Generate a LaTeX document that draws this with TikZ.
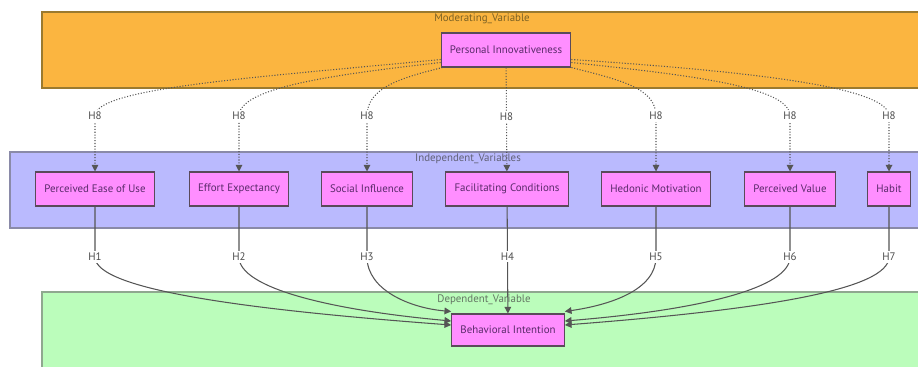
\documentclass[tikz,border=0pt]{standalone}
\usepackage{fontspec}
\setmainfont{PT Sans}
\usetikzlibrary{arrows.meta, positioning, calc}

\definecolor{modfill}{HTML}{FBB540}
\definecolor{modborder}{HTML}{9B7A2E}
\definecolor{indfill}{HTML}{BABAFE}
\definecolor{indborder}{HTML}{8A8AA8}
\definecolor{depfill}{HTML}{BBFDBB}
\definecolor{depborder}{HTML}{8FA88F}
\definecolor{nodefill}{HTML}{FF8EFF}
\definecolor{nodeborder}{HTML}{5A4A5A}
\definecolor{nodetext}{HTML}{5A2A6A}
\definecolor{edgecol}{HTML}{555555}

\begin{document}
\begin{tikzpicture}[
		x=0.02cm, y=-0.02cm,
		>={Triangle[length=3.8pt,width=3.8pt]},
		font=\fontsize{6.2}{7}\selectfont,
		% Estilos
		var/.style={draw=nodeborder, fill=nodefill, text=nodetext, rectangle, line width=0.6pt, minimum height=0.68cm, inner xsep=5pt},
		cluster/.style={line width=0.6pt},
		clustertitle/.style={inner sep=0pt},
		hlabel/.style={text=gray!60!black, fill=white, inner sep=1pt},
		modline/.style={draw=edgecol, line width=0.6pt, densely dotted, ->},
		effline/.style={draw=edgecol, line width=0.6pt, ->}
		]
		\useasboundingbox (0,0) rectangle (918,367);
		
		% --- GRUPOS ---
		\draw [cluster, draw=modborder, fill=modfill] (42,12) rectangle (920,88);
		\draw [cluster, draw=indborder, fill=indfill] (10,152) rectangle (920,228);
		\draw [cluster, draw=depborder, fill=depfill] (42,292) rectangle (920,372);
		\node [clustertitle, text=modborder!80!black] (modtitle) at (482,19) {Moderating\_Variable};
		\node [clustertitle, text=indborder!70!black] (indtitle) at (468,159) {Independent\_Variables};
		\node [clustertitle, text=depborder!70!black] (deptitle) at (484,300) {Dependent\_Variable};
		
		% --- NODOS ---
		\node [var] (pi) at (506,50) {Personal Innovativeness};
		
		\node [var] (peou) at (95,189) {Perceived Ease of Use};
		\node [var] (ee) at (239,189) {Effort Expectancy};
		\node [var] (si) at (367,189) {Social Influence};
		\node [var] (fc) at (507,189) {Facilitating Conditions};
		\node [var] (hm) at (656,189) {Hedonic Motivation};
		\node [var] (pv) at (790,189) {Perceived Value};
		\node [var] (habit) at (889,189) {Habit};
		
		\node [var, minimum height=0.64cm] (bi) at (508,330) {Behavioral Intention};
		
		% --- MODERACION (H8) ---
		\draw [modline] ($(pi.south west)+(0,-8)$) .. controls (250,78) and (95,88) .. (95,116) node [hlabel] {H8} -- (peou);
		\draw [modline] ($(pi.south west)+(0,-5)$) .. controls (330,75) and (239,88) .. (239,116) node [hlabel] {H8} -- (ee);
		\draw [modline] ($(pi.south west)+(2,0)$) .. controls (400,78) and (367,88) .. (367,116) node [hlabel] {H8} -- (si);
		\draw [modline] (pi) -- node [hlabel, pos=0.47] {H8} (fc);
		\draw [modline] ($(pi.south east)+(0,0)$) .. controls (620,80) and (656,88) .. (656,116) node [hlabel] {H8} -- (hm);
		\draw [modline] ($(pi.south east)+(0,-5)$) .. controls (700,76) and (790,88) .. (790,116) node [hlabel] {H8} -- (pv);
		\draw [modline] ($(pi.south east)+(0,-8)$) .. controls (760,72) and (889,88) .. (889,116) node [hlabel] {H8} -- (habit);
		
		% --- EFECTOS (H1-H7) ---
		\draw [effline] (peou) -- (95,257) node [hlabel] {H1} .. controls (95,290) and (250,310) .. ($(bi.west)+(0,-5)$);
		\draw [effline] (ee) -- (239,257) node [hlabel] {H2} .. controls (239,288) and (330,310) .. ($(bi.west)+(0,-9)$);
		\draw [effline] (si) -- (367,257) node [hlabel] {H3} .. controls (367,290) and (410,308) .. ($(bi.north west)+(0,-2)$);
		\draw [effline] (fc) -- node [hlabel, pos=0.47] {H4} (bi);
		\draw [effline] (hm) -- (656,257) node [hlabel] {H5} .. controls (656,290) and (610,305) .. ($(bi.north east)+(0,-2)$);
		\draw [effline] (pv) -- (790,257) node [hlabel] {H6} .. controls (790,288) and (700,310) .. ($(bi.east)+(0,-9)$);
		\draw [effline] (habit) -- (889,257) node [hlabel] {H7} .. controls (889,290) and (760,310) .. ($(bi.east)+(0,-5)$);
		
	\end{tikzpicture}
\end{document}
